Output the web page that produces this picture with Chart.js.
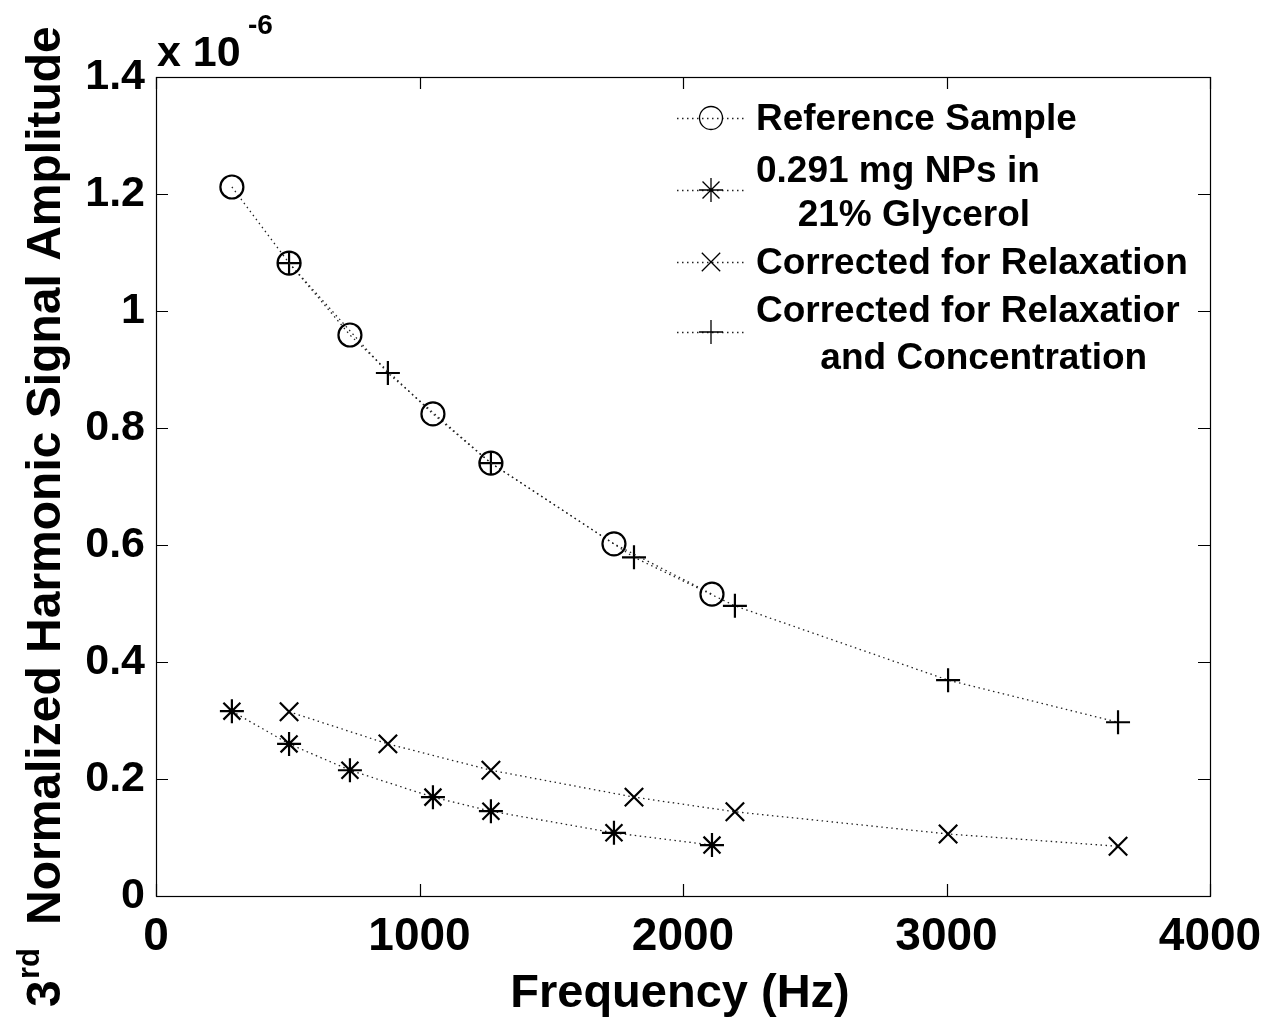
<!DOCTYPE html>
<html>
<head>
<meta charset="utf-8">
<script src="https://cdn.jsdelivr.net/npm/chart.js@4.4.0/dist/chart.umd.min.js"></script>
<style>
  html, body { margin: 0; padding: 0; background: #fff; }
  #wrap { width: 1266px; height: 1017px; }
</style>
</head>
<body>
<div id="wrap"><canvas id="grafico"></canvas></div>
<script>
// ===== data (amplitude in units of 1e-6) =====
const freqRef = [288, 505, 736, 1051, 1271, 1738, 2110];
const ampRef = [1.212, 1.082, 0.959, 0.824, 0.740, 0.602, 0.516];
const ampNPs = [0.316, 0.260, 0.215, 0.169, 0.145, 0.108, 0.087];
const freqCorr = [505, 880, 1271, 1814, 2197, 3006, 3651];
const ampRelax = [0.315, 0.260, 0.215, 0.169, 0.144, 0.106, 0.085];
const ampRelaxConc = [1.082, 0.894, 0.740, 0.579, 0.496, 0.369, 0.297];

const seriesLabels = [
  ["Reference Sample"],
  ["0.291 mg NPs in", "21% Glycerol"],
  ["Corrected for Relaxation"],
  ["Corrected for Relaxatior", "and Concentration"],
];
const seriesMarkers = ["circle", "star", "crossRot", "cross"];
const xTicks = [0, 1000, 2000, 3000, 4000];
const yTicks = [0, 0.2, 0.4, 0.6, 0.8, 1, 1.2, 1.4];

const FONT = '"Liberation Sans", Arial, Helvetica, sans-serif';

function pares(xs, ys) {
  return xs.map((x, i) => ({ x: x, y: ys[i] }));
}

function serie(i, pontos, raio) {
  return {
    label: seriesLabels[i].join(" "),
    data: pontos,
    showLine: true,
    borderColor: "#222",
    borderWidth: 1.3,
    borderDash: [1.5, 3.5],
    pointStyle: seriesMarkers[i],
    pointRadius: raio,
    pointBorderColor: "#000",
    pointBackgroundColor: "rgba(0,0,0,0)",
    pointBorderWidth: 2.2,
    tension: 0,
  };
}

// ===== box, inward ticks, titles and legend (MATLAB look) =====
const moldura = {
  id: "moldura",
  afterDraw(chart) {
    const { ctx, chartArea: a, scales } = chart;
    ctx.save();
    ctx.strokeStyle = "#000";
    ctx.lineWidth = 1.2;
    ctx.strokeRect(a.left + 0.5, a.top + 0.5, a.right - a.left, a.bottom - a.top);
    const tl = 12;
    ctx.beginPath();
    xTicks.forEach((v) => {
      const px = Math.round(scales.x.getPixelForValue(v)) + 0.5;
      ctx.moveTo(px, a.bottom); ctx.lineTo(px, a.bottom - tl);
      ctx.moveTo(px, a.top); ctx.lineTo(px, a.top + tl);
    });
    yTicks.forEach((v) => {
      const py = Math.round(scales.y.getPixelForValue(v)) + 0.5;
      ctx.moveTo(a.left, py); ctx.lineTo(a.left + tl, py);
      ctx.moveTo(a.right, py); ctx.lineTo(a.right - tl, py);
    });
    ctx.stroke();

    ctx.fillStyle = "#000";
    // x title
    ctx.font = "bold 47px " + FONT;
    ctx.textAlign = "center";
    ctx.textBaseline = "alphabetic";
    ctx.fillText("Frequency (Hz)", 680, 1007);

    // exponent label
    ctx.textAlign = "left";
    ctx.font = "bold 43px " + FONT;
    ctx.fillText("x 10", 157, 66);
    ctx.font = "bold 28px " + FONT;
    ctx.fillText("-6", 248, 34);

    // y title, rotated
    ctx.save();
    ctx.translate(60, 1007);
    ctx.rotate(-Math.PI / 2);
    ctx.font = "bold 48px " + FONT;
    ctx.fillText("3", 0, 0);
    ctx.font = "bold 31px " + FONT;
    ctx.fillText("rd", 28, -21);
    ctx.font = "bold 48px " + FONT;
    ctx.fillText("Normalized Harmonic Signal Amplitude", 82, 0);
    ctx.restore();

    // legend
    const linhasY = [[118], [170, 214], [262], [310, 357]];
    const marcaY = [118, 190, 262, 332];
    ctx.font = "bold 37px " + FONT;
    ctx.textBaseline = "middle";
    chart.data.datasets.forEach((ds, i) => {
      const y = marcaY[i];
      ctx.save();
      ctx.strokeStyle = "#222";
      ctx.lineWidth = 1.3;
      ctx.setLineDash([1.5, 3.5]);
      ctx.beginPath();
      ctx.moveTo(677, y + 0.5); ctx.lineTo(745, y + 0.5);
      ctx.stroke();
      ctx.setLineDash([]);
      ctx.strokeStyle = "#000";
      ctx.fillStyle = "rgba(0,0,0,0)";
      Chart.helpers.drawPoint(ctx, {
        pointStyle: ds.pointStyle, radius: ds.pointRadius, borderWidth: 2.2, rotation: 0,
      }, 711, y);
      ctx.restore();
      const linhas = seriesLabels[i];
      const larg = linhas.map((t) => ctx.measureText(t).width);
      const maior = Math.max(...larg);
      const cx = 756 + maior / 2;
      linhas.forEach((t, k) => {
        ctx.textAlign = "center";
        ctx.fillText(t, cx + (k > 0 ? 16 : 0), linhasY[i][k] + 2);
      });
    });
    ctx.restore();
  },
};

function criarGrafico() {
  const ctx = document.getElementById("grafico").getContext("2d");
  new Chart(ctx, {
    type: "scatter",
    data: {
      datasets: [
        serie(0, pares(freqRef, ampRef), 11.5),
        serie(1, pares(freqRef, ampNPs), 12),
        serie(2, pares(freqCorr, ampRelax), 13),
        serie(3, pares(freqCorr, ampRelaxConc), 12),
      ],
    },
    options: {
      responsive: true,
      maintainAspectRatio: false,
      animation: false,
      events: [],
      layout: { padding: { top: 77, right: 56, left: 0, bottom: 0 } },
      plugins: {
        legend: { display: false },
        tooltip: { enabled: false },
      },
      scales: {
        x: {
          type: "linear",
          min: 0,
          max: 4000,
          afterFit: (s) => { s.height = 121; s.paddingLeft = 0; s.paddingRight = 0; },
          afterBuildTicks: (s) => { s.ticks = xTicks.map((v) => ({ value: v })); },
          grid: { display: false, drawTicks: false },
          border: { display: false },
          ticks: {
            color: "#000",
            padding: 14,
            maxRotation: 0,
            font: { family: FONT, size: 46, weight: "bold" },
            callback: (v) => String(v),
          },
        },
        y: {
          type: "linear",
          min: 0,
          max: 1.4,
          afterFit: (s) => { s.width = 156; s.paddingTop = 0; s.paddingBottom = 0; },
          afterBuildTicks: (s) => { s.ticks = yTicks.map((v) => ({ value: v })); },
          grid: { display: false, drawTicks: false },
          border: { display: false },
          ticks: {
            color: "#000",
            padding: 11,
            font: { family: FONT, size: 43, weight: "bold" },
            callback: (v) => String(parseFloat(Number(v).toFixed(1))),
          },
        },
      },
    },
    plugins: [moldura],
  });
}

document.addEventListener("DOMContentLoaded", function () {
  criarGrafico();
});
</script>
</body>
</html>
